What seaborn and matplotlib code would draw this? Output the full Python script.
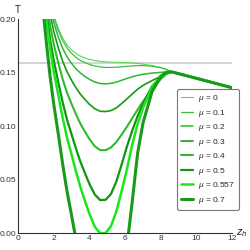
import matplotlib
matplotlib.use("Agg")
import matplotlib.pyplot as plt
import seaborn as sns
from matplotlib.ticker import MultipleLocator, FormatStrFormatter

# ---- data ----
z_h = [1.4, 1.6, 1.8, 2.0, 2.25, 2.5, 2.75, 3.0, 3.25, 3.5, 3.75, 4.0, 4.3, 4.6,
       4.9, 5.2, 5.5, 5.8, 6.1, 6.4, 6.7, 7.0, 7.5, 8.0, 8.3, 8.6, 10.3, 12.0]

T_mu0 = [0.258, 0.235, 0.217, 0.204, 0.1914, 0.1823, 0.1758, 0.1711, 0.1677, 0.1653,
         0.1636, 0.1623, 0.1612, 0.1605, 0.1600, 0.1597, 0.1595, 0.1594, 0.1592, 0.1589,
         0.1585, 0.1579, 0.1566, 0.1547, 0.1530, 0.1507, 0.1433, 0.1358]
T_mu01 = [0.257, 0.2338, 0.2156, 0.2023, 0.1894, 0.1799, 0.1730, 0.1679, 0.1641, 0.1613,
          0.1593, 0.1576, 0.1562, 0.1553, 0.1548, 0.1548, 0.1550, 0.1554, 0.1558, 0.1562,
          0.1565, 0.1565, 0.1560, 0.1545, 0.1529, 0.1507, 0.1433, 0.1358]
T_mu02 = [0.254, 0.2302, 0.2112, 0.1972, 0.1834, 0.1727, 0.1646, 0.1585, 0.1535, 0.1495,
          0.1464, 0.1437, 0.1412, 0.1398, 0.1394, 0.1399, 0.1410, 0.1428, 0.1445, 0.1461,
          0.1474, 0.1484, 0.1495, 0.1502, 0.1505, 0.1507, 0.1433, 0.1358]
T_mu03 = [0.249, 0.2242, 0.2040, 0.1887, 0.1734, 0.1607, 0.1506, 0.1427, 0.1357, 0.1297,
          0.1249, 0.1204, 0.1162, 0.1139, 0.1136, 0.1145, 0.1170, 0.1210, 0.1255, 0.1300,
          0.1345, 0.1380, 0.1425, 0.1465, 0.1490, 0.1507, 0.1433, 0.1358]
T_mu04 = [0.242, 0.2158, 0.1938, 0.1768, 0.1594, 0.1439, 0.1310, 0.1207, 0.1109, 0.1021,
          0.0948, 0.0879, 0.0812, 0.0776, 0.0776, 0.0800, 0.0850, 0.0920, 0.0995, 0.1075,
          0.1155, 0.1230, 0.1345, 0.1440, 0.1485, 0.1507, 0.1433, 0.1358]
T_mu05 = [0.233, 0.205, 0.1807, 0.1615, 0.1414, 0.1223, 0.1058, 0.0923, 0.0789, 0.0665,
          0.0561, 0.0460, 0.0362, 0.0310, 0.0312, 0.0365, 0.0480, 0.0640, 0.0810, 0.0960,
          0.1095, 0.1210, 0.1370, 0.1465, 0.1497, 0.1507, 0.1433, 0.1358]
T_mu0557 = [0.227, 0.1978, 0.1720, 0.1513, 0.1294, 0.1078, 0.0889, 0.0734, 0.0576, 0.0428,
            0.0302, 0.0181, 0.0061, 0.0000, 0.0002, 0.0065, 0.0200, 0.0390, 0.0600, 0.0830,
            0.1020, 0.1170, 0.1360, 0.1470, 0.1500, 0.1507, 0.1433, 0.1358]
T_mu07 = [0.209, 0.1762, 0.1460, 0.1207, 0.0934, 0.0647, 0.0386, 0.0167, -0.0063, -0.0283,
          -0.0471, -0.0656, -0.0838, -0.0933, -0.0924, -0.0829, -0.0635, -0.0380, -0.0120, 0.0300,
          0.0750, 0.1030, 0.1320, 0.1465, 0.1502, 0.1507, 0.1433, 0.1358]

labels = ["0", "0.1", "0.2", "0.3", "0.4", "0.5", "0.557", "0.7"]
series = [T_mu0, T_mu01, T_mu02, T_mu03, T_mu04, T_mu05, T_mu0557, T_mu07]
colors = ["#5fd35f", "#3cbf3c", "#2db82d", "#169b16", "#2fba2f", "#109610", "#1be61b", "#1a9a1a"]
widths = [0.8, 0.9, 1.1, 1.2, 1.5, 1.6, 1.8, 2.2]

T_ref = 0.1592
ref_x = [0, 12]

# ---- styling ----
sns.set_style("white")
plt.rcParams["font.family"] = ["Liberation Sans", "DejaVu Sans"]
plt.rcParams["mathtext.fontset"] = "custom"
plt.rcParams["mathtext.rm"] = "Liberation Sans"
plt.rcParams["mathtext.it"] = "Liberation Sans:italic"

fig = plt.figure(figsize=(2.5, 2.5), dpi=100)
ax = fig.add_axes([18/250, 1-233.3/250, 214.3/250, 214.3/250])

sns.lineplot(x=ref_x, y=[T_ref, T_ref], color="#c8c8c8", lw=1.1, ax=ax)
for lab, ys, c, w in zip(labels, series, colors, widths):
    sns.lineplot(x=z_h, y=ys, color=c, lw=w, ax=ax, sort=False,
                 label=r"$\mu$ = " + lab)

ax.set_xlim(0, 12)
ax.set_ylim(0, 0.2)
for s in ["top", "right"]:
    ax.spines[s].set_visible(False)
for s in ["left", "bottom"]:
    ax.spines[s].set_color("#333333")
    ax.spines[s].set_linewidth(0.8)

ax.xaxis.set_major_locator(MultipleLocator(2))
ax.xaxis.set_minor_locator(MultipleLocator(0.5))
ax.yaxis.set_major_locator(MultipleLocator(0.05))
ax.yaxis.set_minor_locator(MultipleLocator(0.01))
ax.yaxis.set_major_formatter(FormatStrFormatter("%.2f"))
ax.tick_params(which="both", direction="in", colors="#333333", labelcolor="#333333",
               labelsize=6, pad=1.5, width=0.6)
ax.tick_params(which="major", length=3.5)
ax.tick_params(which="minor", length=2)
ax.set_xlabel("")
ax.set_ylabel("")

ax.text(0.0, 1.02, "T", transform=ax.transAxes, fontsize=7, ha="center", va="bottom",
        color="#222222")
ax.text(1.015, 0.0, r"$z_h$", transform=ax.transAxes, fontsize=8, ha="left", va="center",
        color="#222222")

leg = ax.legend(loc="upper left", bbox_to_anchor=(0.742, 0.673), fontsize=6,
                frameon=True, fancybox=True, edgecolor="#555555", handlelength=1.4,
                handletextpad=0.6, labelspacing=0.42, borderpad=0.5, borderaxespad=0)
leg.get_frame().set_linewidth(0.8)

fig.savefig("out.png", dpi=100)
